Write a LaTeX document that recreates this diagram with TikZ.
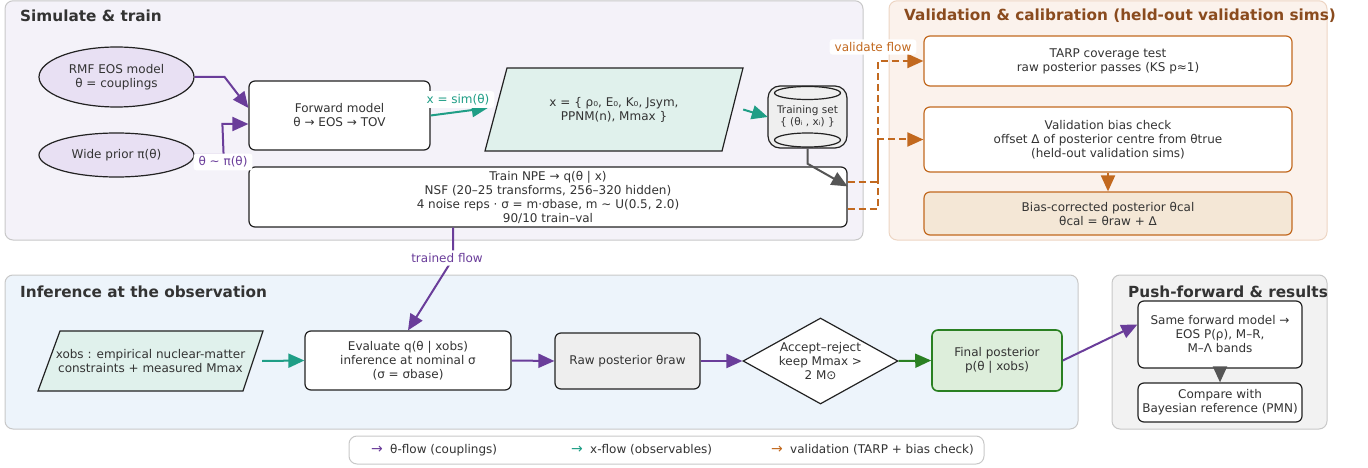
\documentclass[tikz,border=0pt]{standalone}
\usepackage{fontspec}
\setmainfont{DejaVu Sans}
\usetikzlibrary{arrows.meta,shapes.geometric,calc}
\definecolor{txt}{HTML}{333333}
\definecolor{edge}{HTML}{222222}
\definecolor{purp}{HTML}{6A3D9A}
\definecolor{tealc}{HTML}{1F9E86}
\definecolor{orng}{HTML}{C2691F}
\definecolor{grn}{HTML}{2A8022}
\definecolor{grayarr}{HTML}{555555}
\definecolor{brownt}{HTML}{8A4B1E}
\definecolor{pfillA}{HTML}{F4F2F9}
\definecolor{pfillB}{HTML}{FBF2EC}
\definecolor{pfillC}{HTML}{EDF4FB}
\definecolor{pfillD}{HTML}{F2F2F2}
\definecolor{pborder}{HTML}{C8C8C8}
\definecolor{pborderB}{HTML}{EDD5C3}
\definecolor{ellfill}{HTML}{E8E0F3}
\definecolor{obsfill}{HTML}{E0F1EC}
\definecolor{rawfill}{HTML}{EEEEEE}
\definecolor{calfill}{HTML}{F4E7D6}
\definecolor{finfill}{HTML}{DDEEDB}
\definecolor{cylfill}{HTML}{EFEFEF}
\begin{document}
\begin{tikzpicture}[x=1pt,y=-1pt,
  every node/.style={text=txt, font=\fontsize{12}{14}\selectfont, inner sep=0pt, align=center},
  panel/.style={rounded corners=8pt, line width=1pt},
  ptitle/.style={font=\fontsize{15.3}{17}\selectfont\bfseries, anchor=west},
  box/.style={draw=edge, fill=white, rounded corners=6pt, line width=1.2pt},
  obox/.style={draw=orng, fill=white, rounded corners=6pt, line width=1.2pt},
  ell/.style={ellipse, draw=edge, fill=ellfill, line width=1.2pt},
  plain/.style={},
  lbl/.style={fill=white, rounded corners=3pt, inner xsep=5pt, inner ysep=3pt},
  tip/.style={-{Triangle[length=16pt,width=14pt]}},
  parr/.style={tip, draw=purp, line width=2pt},
  tarr/.style={tip, draw=tealc, line width=2pt},
  garr/.style={tip, draw=grayarr, line width=2pt},
  grarr/.style={tip, draw=grn, line width=2pt},
  oarr/.style={tip, draw=orng, line width=2pt},
  odash/.style={tip, draw=orng, line width=2pt, dash pattern=on 7pt off 4pt},
  legarr/.style={anchor=center, font=\fontsize{14}{16}\selectfont},
]
\useasboundingbox (0,0) rectangle (1368,468);

% ---------- panels ----------
\draw[panel, fill=pfillA, draw=pborder] (5,0.8) rectangle (863,240);
\draw[panel, fill=pfillB, draw=pborderB] (889,0.8) rectangle (1327,240);
\draw[panel, fill=pfillC, draw=pborder] (5,275) rectangle (1078,429);
\draw[panel, fill=pfillD, draw=pborder] (1112,275) rectangle (1327,429);
\draw[panel, fill=white, draw=pborder] (349,436) rectangle (984,464);

\node[ptitle] (t1) at (20,16) {Simulate \& train};
\node[ptitle, text=brownt] (t2) at (904,16) {Validation \& calibration (held-out validation sims)};
\node[ptitle] (t3) at (20,292) {Inference at the observation};
\node[ptitle, anchor=center] (t4) at (1228,292) {Push-forward \& results};

% ---------- simulate & train ----------
\node[ell, minimum width=155, minimum height=60] (rmf) at (116.5,77) {RMF EOS model\\θ = couplings};
\node[ell, minimum width=155, minimum height=44] (prior) at (116.5,155) {Wide prior π(θ)};
\node[box, minimum width=181, minimum height=69] (fwd) at (339.5,115.5) {Forward model\\θ → EOS → TOV};

\draw[fill=obsfill, draw=edge, line width=1.2pt] (507,68) -- (743,68) -- (722,151) -- (485,151) -- cycle;
\node[plain, minimum width=236, minimum height=83] (obs) at (614,109.5) {x = \{ ρ₀, E₀, K₀, Jsym,\\PPNM(n), Mmax \}};

\node[plain, minimum width=79, minimum height=63] (ts) at (807.5,117) {};
\draw[fill=cylfill, draw=edge, line width=1.2pt, rounded corners=12pt] (768,86) rectangle (847,148);
\draw[draw=edge, line width=1.2pt] (807.5,93) ellipse [x radius=33pt, y radius=6.5pt];
\draw[draw=edge, line width=1.2pt] (807.5,140) ellipse [x radius=33pt, y radius=7pt];
\node[font=\fontsize{10.5}{12.5}\selectfont] (tstext) at (807.5,116.5) {Training set\\\{ (θᵢ , xᵢ) \}};

\node[box, minimum width=598, minimum height=60] (npe) at (548,197) {Train NPE → q(θ | x)\\NSF (20–25 transforms, 256–320 hidden)\\4 noise reps · σ = m·σbase, m ∼ U(0.5, 2.0)\\90/10 train–val};

% ---------- validation ----------
\node[obox, minimum width=368, minimum height=50] (tarp) at (1108,61) {TARP coverage test\\raw posterior passes (KS p≈1)};
\node[obox, minimum width=368, minimum height=65] (bias) at (1108,139.5) {Validation bias check\\offset Δ of posterior centre from θtrue\\(held-out validation sims)};
\node[obox, fill=calfill, minimum width=368, minimum height=43] (cal) at (1108,213.5) {Bias-corrected posterior θcal\\θcal = θraw + Δ};

% ---------- inference ----------
\draw[fill=obsfill, draw=edge, line width=1.2pt] (60,331) -- (263,331) -- (243,391) -- (38,391) -- cycle;
\node[plain, minimum width=205, minimum height=60] (xo) at (150.5,361) {xobs : empirical nuclear-matter\\constraints + measured Mmax};
\node[box, minimum width=206, minimum height=59] (ev) at (408,360.5) {Evaluate q(θ | xobs)\\inference at nominal σ\\(σ = σbase)};
\node[box, fill=rawfill, minimum width=145, minimum height=56] (raw) at (627.5,361) {Raw posterior θraw};
\node[diamond, draw=edge, fill=white, line width=1.2pt, minimum width=155, minimum height=86] (dm) at (820.5,361) {};
\node (dmtext) at (820.5,361) {Accept–reject\\keep Mmax >\\2 M⊙};
\node[box, draw=grn, fill=finfill, line width=1.6pt, minimum width=130, minimum height=61] (fin) at (997,360.5) {Final posterior\\p(θ | xobs)};

% ---------- push-forward ----------
\node[box, minimum width=164, minimum height=67] (same) at (1220,334.5) {Same forward model →\\EOS P(ρ), M–R,\\M–Λ bands};
\node[box, minimum width=164, minimum height=39] (cmp) at (1220,402.5) {Compare with\\Bayesian reference (PMN)};

% ---------- connectors ----------
\draw[parr] (rmf.east) -- ($(rmf.east)+(30,0)$) -- ($(fwd.west)+(0,-7.5)$);
\draw[parr] (prior.east) -- ($(prior.east)+(29,0)$) -- ($(fwd.west)+(-26,8.5)$) -- ($(fwd.west)+(0,8.5)$);
\node[lbl, text=purp] (lprior) at (223,162) {θ ∼ π(θ)};

\draw[tarr] (fwd.east) -- ($(obs.west)+(-8,-1.5)$);
\node[lbl, text=tealc] (lsim) at (458,99.5) {x = sim(θ)};
\draw[tarr] ($(obs.east)+(11,0)$) -- (ts.west);
\draw[garr] (ts.south) -- ($(ts.south)+(0,15)$) -- ($(npe.north east)+(0,20)$);

\draw[odash] ($(npe.east)+(0,-15)$) -- ($(npe.east)+(30,-15)$) |- (tarp.west);
\draw[odash] ($(npe.east)+(0,12)$) -- ($(npe.east)+(30,12)$) |- (bias.west);
\node[lbl, text=orng] (lval) at (873,47) {validate flow};
\draw[oarr] (bias.south) -- (cal.north);

\draw[parr] ($(npe.south)+(-95,0)$) -- ($(npe.south)+(-95,31)$) -- (ev.north);
\node[lbl, text=purp] (ltr) at (447,258) {trained flow};

\draw[tarr] ($(xo.east)+(9,0)$) -- (ev.west);
\draw[parr] (ev.east) -- (raw.west);
\draw[parr] (raw.east) -- (dm.west);
\draw[grarr] (dm.east) -- (fin.west);
\draw[parr] (fin.east) -- ($(same.west)+(0,-10)$);
\draw[garr] (same.south) -- (cmp.north);

% ---------- legend ----------
\node[legarr, text=purp] (la1) at (377,450) {→};
\node[anchor=west] (lt1) at (390,450) {θ-flow (couplings)};
\node[legarr, text=tealc] (la2) at (577,450) {→};
\node[anchor=west] (lt2) at (590,450) {x-flow (observables)};
\node[legarr, text=orng] (la3) at (777,450) {→};
\node[anchor=west] (lt3) at (790,450) {validation (TARP + bias check)};
\end{tikzpicture}
\end{document}
